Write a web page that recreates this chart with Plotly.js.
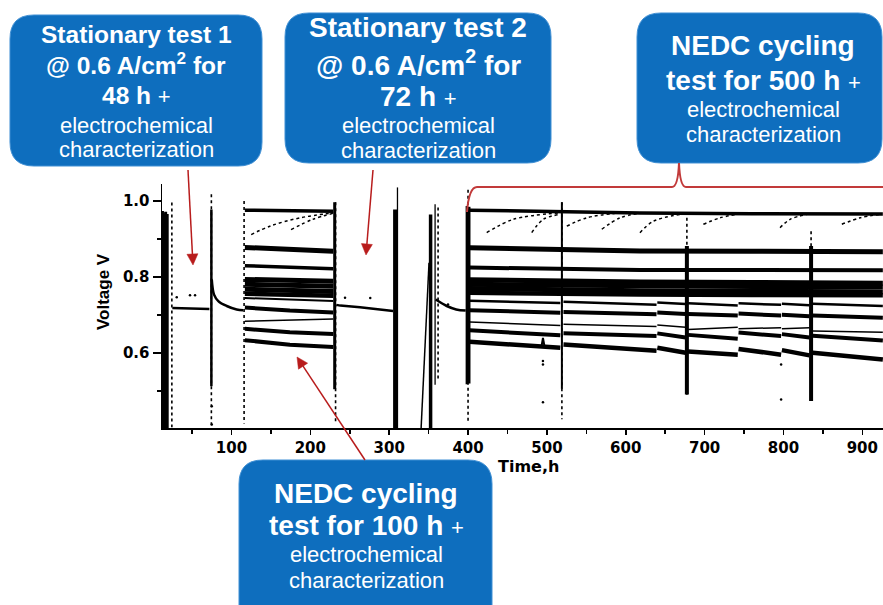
<!DOCTYPE html>
<html>
<head>
<meta charset="utf-8">
<script src="https://cdn.plot.ly/plotly-3.0.1.min.js"></script>
<style>
  html, body { margin: 0; padding: 0; background: #fff; }
  #chart { width: 883px; height: 605px; }
</style>
</head>
<body>
<div id="chart"></div>
<script>
// ---------------- Cell voltage record (time in h, voltage in V) ----------------

// start-up block
const startupTime   = [12.5, 14.5, 16.5, 18.5];
const startupTop    = [0.974, 0.968, 0.972, 0.966];
const startupBottom = [0.403, 0.403, 0.403, 0.403];

// stationary test 1 @ 0.6 A/cm2
const hold1Time = [25, 40, 55, 72];
const hold1Volt = [0.719, 0.718, 0.717, 0.716];
const recovery1Time = [75, 77.9, 83.3, 94, 106.6, 115];
const recovery1Volt = [0.794, 0.754, 0.737, 0.724, 0.715, 0.713];

// NEDC cycling, 100 h: one row per load level
const cycle1Time = [117, 174, 229];
const cycle1Levels = [
  [0.976, 0.974, 0.973],
  [0.878, 0.872, 0.868],
  [0.830, 0.826, 0.822],
  [0.794, 0.791, 0.789],
  [0.781, 0.778, 0.776],
  [0.768, 0.765, 0.762],
  [0.756, 0.753, 0.751],
  [0.745, 0.740, 0.737],
  [0.720, 0.712, 0.707],
  [0.684, 0.688, 0.690],
  [0.664, 0.655, 0.650],
  [0.634, 0.622, 0.616]
];

// stationary test 2 @ 0.6 A/cm2
const hold2Time = [233, 238, 263, 288.5, 301, 305];
const hold2Volt = [0.727, 0.725, 0.721, 0.715, 0.712, 0.711];
const rampTime = [340.5, 350.5];
const rampVolt = [0.403, 0.838];
const recovery2Time = [359, 373, 385, 397];
const recovery2Volt = [0.741, 0.724, 0.715, 0.712];

// NEDC cycling, 500 h: upper load levels
const cycle2Time = [402, 519, 618, 760, 926];
const cycle2Levels = [
  [0.976, 0.972, 0.969, 0.967, 0.966],
  [0.877, 0.872, 0.869, 0.868, 0.867],
  [0.825, 0.821, 0.819, 0.819, 0.818],
  [0.793, 0.789, 0.787, 0.786, 0.784],
  [0.781, 0.778, 0.776, 0.775, 0.774],
  [0.770, 0.766, 0.764, 0.763, 0.761],
  [0.759, 0.756, 0.754, 0.753, 0.752]
];

// NEDC cycling, 500 h: lower load levels, which recover after each characterization
const cycle2StepTime = [402, 517, null, 521, 639, null, 640, 676, null, 679, 742, null, 743, 797, null, 798, 833, null, 837, 926];
const cycle2StepLevels = [
  [0.738, 0.732, null, 0.735, 0.727, null, 0.733, 0.729, null, 0.731, 0.725, null, 0.731, 0.727, null, 0.730, 0.726, null, 0.730, 0.724],
  [0.713, 0.706, null, 0.708, 0.702, null, 0.707, 0.703, null, 0.703, 0.699, null, 0.704, 0.699, null, 0.701, 0.697, null, 0.699, 0.693],
  [0.682, 0.673, null, 0.676, 0.670, null, 0.674, 0.668, null, 0.662, 0.668, null, 0.664, 0.667, null, 0.664, 0.667, null, 0.658, 0.655],
  [0.660, 0.647, null, 0.652, 0.645, null, 0.652, 0.641, null, 0.648, 0.638, null, 0.654, 0.645, null, 0.650, 0.641, null, 0.646, 0.633],
  [0.630, 0.614, null, 0.623, 0.606, null, 0.614, 0.601, null, 0.604, 0.596, null, 0.611, 0.596, null, 0.608, 0.594, null, 0.601, 0.583]
];
const blipTime = [493, 495, 497];
const blipVolt = [0.616, 0.640, 0.617];

// dotted relaxation traces of the idle level
const relaxTime = [
  [125, 150, 187, 229], [175.5, 203, 229],
  [423.7, 457.5, 516.7], [480.8, 495.5, 516.7], [525.2, 550.5, 592.8], [569.6, 592.8, 618.1],
  [618, 635, 668.9], [698.4, 719.6, 740.8], [795.7, 808.4, 829.6], [874, 897, 922.5]
];
const relaxVolt = [
  [0.912, 0.935, 0.956, 0.969], [0.925, 0.952, 0.968],
  [0.917, 0.952, 0.969], [0.917, 0.952, 0.965], [0.934, 0.956, 0.969], [0.926, 0.956, 0.968],
  [0.917, 0.947, 0.965], [0.939, 0.956, 0.965], [0.930, 0.952, 0.965], [0.939, 0.956, 0.965]
];

// characterization sweeps: dense vertical traces
const sweepTime   = [74.5, 230.9, 307.5, 352.5, 398.5, 401.5, 519, 677.5, 835];
const sweepTop    = [0.978, 0.997, 0.978, 0.965, 0.987, 0.985, 0.997, 0.882, 0.882];
const sweepBottom = [0.513, 0.505, 0.403, 0.403, 0.518, 0.520, 0.506, 0.491, 0.474];

// thin vertical traces
const thinTime   = [310.5, 358.2];
const thinTop    = [1.036, 0.992];
const thinBottom = [0.403, 0.517];

// sparse vertical traces
const sparseTime   = [24.4, 74.5, 116, 232, 362, 400, 519, 677.5, 835];
const sparseTop    = [0.996, 1.018, 1.000, 0.997, 0.983, 1.030, 0.997, 0.956, 0.921];
const sparseBottom = [0.405, 0.410, 0.415, 0.420, 0.530, 0.420, 0.426, 0.490, 0.474];

// isolated samples
const strayTime = [30.6, 47.4, 53.8, 75, 75, 244, 276, 374.6, 495, 495, 495, 797, 797];
const strayVolt = [0.747, 0.752, 0.752, 0.46, 0.412, 0.746, 0.745, 0.728, 0.471, 0.579, 0.570, 0.478, 0.570];

// axis ticks
const xTicks = [100, 200, 300, 400, 500, 600, 700, 800, 900];
const yTicks = [0.6, 0.8, 1.0];

// ---------------- styles ----------------
const INK = '#000000';
const cycle1Widths = [3.5, 5, 3.5, 5, 5, 5, 4.5, 2, 4, 1.5, 4, 4];
const cycle2Widths = [3.5, 5, 4, 5, 5, 5, 4.5];
const stepWidths = [2.5, 4, 1.5, 4, 4.5];
const sweepWidths = [2.5, 3, 4, 3.5, 2.5, 2.5, 2, 4, 4];

const traces = [];
function line(x, y, width, dash, shape) {
  traces.push({
    type: 'scatter', mode: 'lines', x: x, y: y,
    line: { color: INK, width: width, dash: dash || 'solid', shape: shape || 'linear' },
    hoverinfo: 'skip', showlegend: false
  });
}
function vertical(t, top, bottom, width, dash) {
  line([t, t], [top, bottom], width, dash);
}

startupTime.forEach((t, i) => vertical(t, startupTop[i], startupBottom[i], 3));
line(hold1Time, hold1Volt, 2.5);
line(recovery1Time, recovery1Volt, 2.5, 'solid', 'spline');
cycle1Levels.forEach((lv, i) => line(cycle1Time, lv, cycle1Widths[i]));
line(hold2Time, hold2Volt, 2.5);
line(rampTime, rampVolt, 1.5);
line(recovery2Time, recovery2Volt, 2.5, 'solid', 'spline');
cycle2Levels.forEach((lv, i) => line(cycle2Time, lv, cycle2Widths[i]));
cycle2StepLevels.forEach((lv, i) => line(cycle2StepTime, lv, stepWidths[i]));
line(blipTime, blipVolt, 2);
relaxTime.forEach((t, i) => line(t, relaxVolt[i], 1.5, 'dot', 'spline'));
sweepTime.forEach((t, i) => vertical(t, sweepTop[i], sweepBottom[i], sweepWidths[i]));
thinTime.forEach((t, i) => vertical(t, thinTop[i], thinBottom[i], 1.3));
sparseTime.forEach((t, i) => vertical(t, sparseTop[i], sparseBottom[i], 1.6, 'dot'));
traces.push({
  type: 'scatter', mode: 'markers', x: strayTime, y: strayVolt,
  marker: { color: INK, size: 2.5 }, hoverinfo: 'skip', showlegend: false
});

// ---------------- frame geometry (pixels -> paper) ----------------
const L = 162, T = 184, W = 721, H = 244;
const PX = x => (x - L) / W;
const PY = y => (T + H - y) / H;
const P = (x, y) => PX(x).toFixed(5) + ',' + PY(y).toFixed(5);

function roundBox(x0, y0, x1, y1, r) {
  const d = 'M' + P(x0 + r, y0) + ' L' + P(x1 - r, y0) + ' Q' + P(x1, y0) + ' ' + P(x1, y0 + r) +
    ' L' + P(x1, y1 - r) + ' Q' + P(x1, y1) + ' ' + P(x1 - r, y1) +
    ' L' + P(x0 + r, y1) + ' Q' + P(x0, y1) + ' ' + P(x0, y1 - r) +
    ' L' + P(x0, y0 + r) + ' Q' + P(x0, y0) + ' ' + P(x0 + r, y0) + ' Z';
  return {
    type: 'path', xref: 'paper', yref: 'paper', path: d,
    fillcolor: '#0e6ebe', line: { color: '#3f8fd4', width: 1 }, layer: 'above'
  };
}

const shapes = [
  roundBox(10, 15, 262, 166, 24),
  roundBox(285, 13, 551, 163, 24),
  roundBox(637, 13, 882, 163, 24),
  roundBox(239, 460, 492, 630, 24)
];

// curly bracket over the 500 h cycling period
shapes.push({
  type: 'path', xref: 'paper', yref: 'paper', layer: 'above',
  path: 'M' + P(467, 212) + ' Q' + P(469, 187) + ' ' + P(477, 187) +
        ' L' + P(672, 187) + ' Q' + P(678, 187) + ' ' + P(679, 163) +
        ' Q' + P(680, 187) + ' ' + P(686, 187) + ' L' + P(900, 187),
  line: { color: '#c23a3a', width: 2 }
});

// red pointers: shaft plus filled head, from tail (tx, ty) to tip (hx, hy)
const RED = '#b81c1c';
function pointer(tx, ty, hx, hy) {
  const len = Math.hypot(hx - tx, hy - ty);
  const ux = (hx - tx) / len, uy = (hy - ty) / len;
  const bx = hx - 11 * ux, by = hy - 11 * uy;
  shapes.push({
    type: 'path', xref: 'paper', yref: 'paper', layer: 'above',
    path: 'M' + P(tx, ty) + ' L' + P(bx, by), line: { color: RED, width: 1.5 }
  });
  shapes.push({
    type: 'path', xref: 'paper', yref: 'paper', layer: 'above',
    path: 'M' + P(hx, hy) + ' L' + P(bx - 5.5 * uy, by + 5.5 * ux) + ' L' + P(bx + 5.5 * uy, by - 5.5 * ux) + ' Z',
    fillcolor: RED, line: { color: RED, width: 0.5 }
  });
}
pointer(188, 170, 193, 265);
pointer(373, 170, 366, 255);
pointer(365, 460, 297, 357);

// ---------------- text ----------------
const SANS = 'Liberation Sans, Arial, sans-serif';
const WIDE = 'DejaVu Sans, Verdana, sans-serif';
const annotations = [];
function label(text, cx, cy, size, extra) {
  annotations.push(Object.assign({
    xref: 'paper', yref: 'paper', x: PX(cx), y: PY(cy),
    xanchor: 'center', yanchor: 'middle', showarrow: false,
    text: text, font: { family: SANS, size: size, color: '#ffffff' }
  }, extra || {}));
}
const plus = " <span style='font-size:22px;font-weight:normal'>+</span>";

label('<b>Stationary test 1</b>', 136, 34.6, 24.5);
label('<b>@ 0.6 A/cm<sup>2</sup> for</b>', 136, 63.6, 24.5);
label('<b>48 h</b>' + plus, 136, 95.6, 24.5);
label('electrochemical', 136, 125.3, 22);
label('characterization', 136, 149.3, 22);

label('<b>Stationary test 2</b>', 418, 27.5, 28);
label('<b>@ 0.6 A/cm<sup>2</sup> for</b>', 418, 62.9, 28);
label('<b>72 h</b>' + plus, 418, 96.2, 28);
label('electrochemical', 418, 125.6, 22);
label('characterization', 418, 150, 22);

label('<b>NEDC cycling</b>', 763, 45.2, 28);
label('<b>test for 500 h</b>' + plus, 763, 80.2, 28);
label('electrochemical', 763, 109, 22);
label('characterization', 763, 134, 22);

label('<b>NEDC cycling</b>', 366, 493.5, 28);
label('<b>test for 100 h</b>' + plus, 366, 525.2, 28);
label('electrochemical', 366, 554, 22);
label('characterization', 366, 580.6, 22);

// axis titles
label('<b>Voltage V</b>', 103, 292, 17, { textangle: -90, font: { family: SANS, size: 17, color: INK } });
label('<b>Time,h</b>', 528, 466, 16, { font: { family: WIDE, size: 16, color: INK } });

// ---------------- layout ----------------
const tickFont = { family: WIDE, size: 15, color: INK };
const layout = {
  width: 883, height: 605,
  margin: { l: L, r: 883 - L - W, t: T, b: 605 - T - H, pad: 0 },
  paper_bgcolor: '#ffffff', plot_bgcolor: '#ffffff',
  showlegend: false,
  xaxis: {
    range: [11.9, 926.2], tickmode: 'array',
    tickvals: xTicks, ticktext: xTicks.map(v => '<b>' + v + '</b>'),
    showline: true, linecolor: INK, linewidth: 1.5,
    ticks: 'outside', ticklen: 5, tickwidth: 1.5, tickcolor: INK,
    minor: { tick0: 0, dtick: 50, ticks: 'outside', ticklen: 4, tickwidth: 1.5, tickcolor: INK, showgrid: false },
    showgrid: false, zeroline: false, tickfont: tickFont, fixedrange: true
  },
  yaxis: {
    range: [0.403, 1.045], tickmode: 'array',
    tickvals: yTicks, ticktext: yTicks.map(v => '<b>' + v.toFixed(1) + '</b>'),
    showline: true, linecolor: INK, linewidth: 1.5,
    ticks: 'outside', ticklen: 8, tickwidth: 1.5, tickcolor: INK,
    minor: { tick0: 0, dtick: 0.1, ticks: 'outside', ticklen: 4, tickwidth: 1.5, tickcolor: INK, showgrid: false },
    showgrid: false, zeroline: false, tickfont: tickFont, fixedrange: true
  },
  shapes: shapes,
  annotations: annotations
};

Plotly.newPlot('chart', traces, layout, { staticPlot: true, displayModeBar: false });
</script>
</body>
</html>
